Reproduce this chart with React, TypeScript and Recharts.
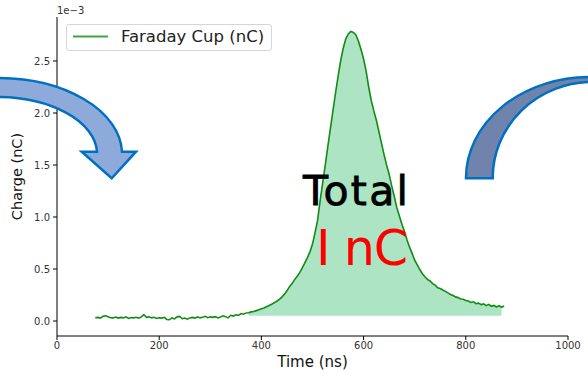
import { ComposedChart, Area, Line, XAxis, YAxis, Legend, Label } from 'recharts'

// time axis (ns)
const times = [
  75, 80, 85, 90, 95, 100, 105, 110, 115, 120, 125, 130, 135, 140, 145, 150, 155, 160, 165, 170,
  175, 180, 185, 190, 195, 200, 205, 210, 215, 220, 225, 230, 235, 240, 245, 250, 255, 260, 265, 270,
  275, 280, 285, 290, 295, 300, 305, 310, 315, 320, 325, 330, 335, 340, 345, 350, 355, 360, 365, 370,
  375, 380, 385, 390, 395, 400, 405, 410, 415, 420, 425, 430, 435, 440, 445, 450, 455, 460, 465, 470,
  475, 480, 485, 490, 495, 500, 505, 510, 515, 520, 525, 530, 535, 540, 545, 550, 555, 560, 565, 570,
  575, 580, 585, 590, 595, 600, 605, 610, 615, 620, 625, 630, 635, 640, 645, 650, 655, 660, 665, 670,
  675, 680, 685, 690, 695, 700, 705, 710, 715, 720, 725, 730, 735, 740, 745, 750, 755, 760, 765, 770,
  775, 780, 785, 790, 795, 800, 805, 810, 815, 820, 825, 830, 835, 840, 845, 850, 855, 860, 865, 870,
  875,
]

// faraday cup charge (x1e-3 nC)
const charge = [
  0.030, 0.035, 0.028, 0.045, 0.050, 0.040, 0.032, 0.030, 0.038, 0.028, 0.035, 0.030, 0.040, 0.025, 0.033, 0.030, 0.036, 0.028, 0.040, 0.062,
  0.035, 0.040, 0.030, 0.036, 0.025, 0.032, 0.028, 0.036, 0.015, 0.012, 0.030, 0.020, 0.040, 0.045, 0.022, 0.028, 0.018, 0.030, 0.035, 0.028,
  0.040, 0.030, 0.036, 0.045, 0.032, 0.040, 0.035, 0.042, 0.030, 0.038, 0.050, 0.042, 0.030, 0.055, 0.048, 0.060, 0.055, 0.072, 0.065, 0.078,
  0.080, 0.088, 0.092, 0.100, 0.108, 0.118, 0.125, 0.138, 0.150, 0.162, 0.175, 0.190, 0.208, 0.230, 0.258, 0.290, 0.330, 0.360, 0.398, 0.430,
  0.465, 0.510, 0.560, 0.610, 0.665, 0.740, 0.850, 0.970, 1.160, 1.330, 1.500, 1.680, 1.850, 2.020, 2.190, 2.350, 2.500, 2.620, 2.710, 2.760,
  2.785, 2.775, 2.750, 2.690, 2.610, 2.520, 2.400, 2.250, 2.120, 2.020, 1.930, 1.820, 1.710, 1.600, 1.500, 1.410, 1.300, 1.200, 1.090, 1.010,
  0.930, 0.860, 0.780, 0.710, 0.650, 0.585, 0.540, 0.495, 0.455, 0.425, 0.400, 0.385, 0.360, 0.345, 0.320, 0.312, 0.298, 0.285, 0.270, 0.255,
  0.245, 0.232, 0.225, 0.212, 0.210, 0.198, 0.192, 0.178, 0.185, 0.168, 0.172, 0.158, 0.165, 0.148, 0.160, 0.142, 0.150, 0.135, 0.148, 0.132,
  0.145,
]

const xTicks = [0, 200, 400, 600, 800, 1000]
const yTicks = [0, 0.5, 1.0, 1.5, 2.0, 2.5]

// shaded integration window
const FILL_FROM = 375
const FILL_TO = 870
const FILL_BASE = 0.05

const data = times.map((t, i) => ({
  t,
  charge: charge[i],
  area: t >= FILL_FROM && t <= FILL_TO ? charge[i] : null,
}))

const FONT = 'DejaVu Sans, sans-serif'

const LegendBox = () => (
  <div
    style={{
      width: 206,
      height: 27,
      boxSizing: 'border-box',
      border: '1px solid #d6d6d6',
      borderRadius: 3,
      background: 'rgba(255,255,255,0.8)',
      display: 'flex',
      alignItems: 'center',
      fontFamily: FONT,
      fontSize: 16.5,
      color: '#222',
    }}
  >
    <svg width={54} height={27} style={{ flex: 'none' }}>
      <line x1={6} x2={41} y1={12.5} y2={12.5} stroke="#3ea63e" strokeWidth={1.8} />
    </svg>
    <span style={{ whiteSpace: 'nowrap', lineHeight: '27px', marginTop: -2 }}>Faraday Cup (nC)</span>
  </div>
)

export default function App() {
  return (
    <div style={{ position: 'absolute', left: 0, top: 0, width: 588, height: 375, background: '#fff' }}>
      <ComposedChart
        width={588}
        height={375}
        data={data}
        margin={{ top: 17, right: 20, left: 0, bottom: 0 }}
        style={{ fontFamily: FONT }}
      >
        <XAxis
          dataKey="t"
          type="number"
          domain={[0, 1000]}
          ticks={xTicks}
          height={39}
          stroke="#000"
          tickSize={4}
          tickMargin={2}
          tick={{ fill: '#333', fontSize: 10 }}
        >
          <Label value="Time (ns)" position="insideBottom" offset={8} style={{ fontSize: 15, fill: '#111' }} />
        </XAxis>
        <XAxis xAxisId="top" orientation="top" dataKey="t" type="number" domain={[0, 1000]} height={0} tick={false} tickLine={false} stroke="#000" />
        <YAxis
          type="number"
          domain={[-0.144, 2.923]}
          ticks={yTicks}
          width={57}
          stroke="#000"
          tickSize={4}
          tickMargin={3}
          tick={{ fill: '#333', fontSize: 10 }}
          tickFormatter={(v: number) => v.toFixed(1)}
        >
          <Label
            value="Charge (nC)"
            angle={-90}
            position="insideLeft"
            offset={17}
            style={{ fontSize: 14.5, fill: '#111', textAnchor: 'middle' }}
          />
        </YAxis>
        <YAxis yAxisId="right" orientation="right" domain={[-0.144, 2.923]} width={0} tick={false} tickLine={false} stroke="#000" />
        <Legend
          layout="vertical"
          align="center"
          verticalAlign="middle"
          content={<LegendBox />}
          wrapperStyle={{ left: 66, top: 24, width: 206, height: 27 }}
        />
        <Area
          dataKey="area"
          type="linear"
          baseValue={FILL_BASE}
          fill="#ace4c4"
          fillOpacity={1}
          stroke="none"
          isAnimationActive={false}
          legendType="none"
        />
        <Line
          dataKey="charge"
          name="Faraday Cup (nC)"
          type="linear"
          stroke="#128c12"
          strokeWidth={1.6}
          dot={false}
          activeDot={false}
          isAnimationActive={false}
        />
      </ComposedChart>
      <svg
        width={588}
        height={375}
        style={{ position: 'absolute', left: 0, top: 0, pointerEvents: 'none', fontFamily: FONT }}
      >
        <text x={57} y={14} fontSize={10} fill="#333">1e−3</text>
        {/* left curved arrow */}
        <path
          d="M -4 78 A 124 76 0 0 1 122 151.7 L 136 151.7 L 111.7 178.3 L 81.7 151.7 L 97 151.7 A 100 57 0 0 0 -4 97 Z"
          fill="#8eaadb"
          stroke="#0070c0"
          strokeWidth={2.5}
          strokeLinejoin="miter"
        />
        {/* right curved arrow tail */}
        <path
          d="M 466 178.3 A 124 101 0 0 1 592 77 L 592 82 A 100 96 0 0 0 492.7 178.3 Z"
          fill="#7083ad"
          stroke="#0070c0"
          strokeWidth={2.5}
        />
        <text x={303} y={205} fontSize={41} fill="#000" stroke="#000" strokeWidth={0.8} textLength={105} lengthAdjust="spacing">Total</text>
        <text x={316} y={265} fontSize={49} fill="#ff0000" textLength={92} lengthAdjust="spacing">I nC</text>
      </svg>
    </div>
  )
}
